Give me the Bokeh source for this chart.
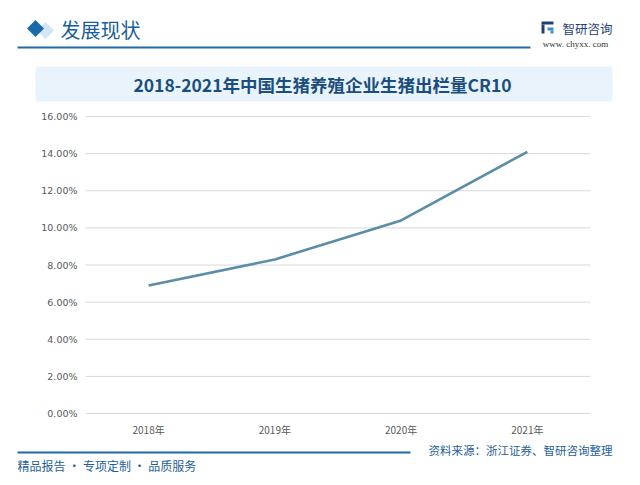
import math
from bokeh.plotting import figure
from bokeh.models import Range1d, FixedTicker, NumeralTickFormatter, LinearAxis
from bokeh.core.properties import value
from bokeh.embed import file_html
from bokeh.resources import INLINE

# ---- data ----
years = ["2018年", "2019年", "2020年", "2021年"]
cr10 = [0.069, 0.083, 0.104, 0.141]
y_ticks = [0.0, 0.02, 0.04, 0.06, 0.08, 0.10, 0.12, 0.14, 0.16]

header_text = "发展现状"
chart_title = "2018-2021年中国生猪养殖企业生猪出栏量CR10"
brand_name = "智研咨询"
brand_url = "www. chyxx. com"
footer_left = "精品报告 · 专项定制 · 品质服务"
footer_right = "资料来源：浙江证券、智研咨询整理"

# ---- page geometry (pixels) ----
W, H = 640, 485
FL, FR, FT, FB = 85, 590, 116, 413   # chart plot area on the page
n = len(years)
x_unit = (FR - FL) / n                # px per category band
y_max = y_ticks[-1]
y_unit = y_max / (FB - FT)            # value per px

x_range = Range1d(-FL / x_unit, n + (W - FR) / x_unit)
y_range = Range1d(-(H - FB) * y_unit, y_max + FT * y_unit)

p = figure(width=W, height=H, x_range=x_range, y_range=y_range,
           output_backend="svg", toolbar_location=None,
           x_axis_location=None, y_axis_location=None,
           min_border=0, min_border_left=0, min_border_right=0,
           min_border_top=0, min_border_bottom=0)
p.grid.visible = False
p.outline_line_color = None
p.background_fill_color = "white"
p.border_fill_color = "white"
p.extra_x_ranges = {"px": Range1d(0, W)}
p.extra_y_ranges = {"px": Range1d(H, 0)}

# y axis
x_pos = [i + 0.5 for i in range(n)]
yax = LinearAxis(fixed_location=0, ticker=FixedTicker(ticks=y_ticks),
                 formatter=NumeralTickFormatter(format="0.00%"))
yax.axis_line_color = None
yax.major_tick_line_color = None
yax.minor_tick_line_color = None
yax.major_tick_out = 0
yax.major_tick_in = 0
yax.major_label_text_color = "#595959"
yax.major_label_text_font = "DejaVu Sans"
yax.major_label_text_font_size = "9.5px"
yax.major_label_standoff = 8
p.add_layout(yax, "left")

# x axis (category bands)
xax = LinearAxis(fixed_location=0, ticker=FixedTicker(ticks=x_pos),
                 major_label_overrides={x: y for x, y in zip(x_pos, years)})
xax.axis_line_color = None
xax.major_tick_line_color = None
xax.minor_tick_line_color = None
xax.major_tick_out = 0
xax.major_tick_in = 0
xax.major_label_text_color = "#595959"
xax.major_label_text_font = "Noto Sans CJK SC"
xax.major_label_text_font_size = "10px"
xax.major_label_standoff = 8
p.add_layout(xax, "below")

# horizontal grid lines across the category bands
p.segment(x0=[0] * len(y_ticks), x1=[n] * len(y_ticks), y0=y_ticks, y1=y_ticks,
          line_color="#d9d9d9", line_width=1)

# data line
p.line(x_pos, cr10, line_color="#5b8ea6", line_width=2.6)


# ---- decorations in page pixels ----
def txt(text, x, y, size, color, font="Noto Sans CJK SC", align="left", bold=False):
    p.text(x=[x], y=[y], text=[text], text_font=value(font), text_font_size=size,
           text_color=color, text_align=align, text_baseline="middle",
           text_font_style="bold" if bold else "normal",
           x_range_name="px", y_range_name="px")


def box(l, t, r, b, color):
    p.quad(left=[l], right=[r], top=[t], bottom=[b], fill_color=color, line_color=None,
           x_range_name="px", y_range_name="px", level="underlay")


# header
p.scatter(x=[45], y=[30], marker="square", angle=math.pi / 4, size=12,
          fill_color="#d3e6f5", line_color=None, x_range_name="px", y_range_name="px")
p.scatter(x=[35], y=[28], marker="square", angle=math.pi / 4, size=12,
          fill_color="#1a6aa8", line_color=None, x_range_name="px", y_range_name="px")
txt(header_text, 60, 29, "20px", "#1a5f9c")
box(17, 46, 530, 48, "#1e6aa6")
# brand logo
box(541, 21, 553, 24, "#1f3f7a")
box(541, 24, 544, 33, "#1f3f7a")
box(547, 27, 553, 30, "#3a8fd0")
box(550, 30, 553, 33, "#3a8fd0")
txt(brand_name, 562, 28, "12.5px", "#1f3f7a")
txt(brand_url, 575, 43, "9px", "#333333", font="Liberation Serif", align="center")
# title band
box(35, 66, 612, 101, "#e8f3fb")
txt(chart_title, 322, 84, "17.5px", "#1b4e7d", align="center", bold=True)

# footer
box(17, 451, 410, 453, "#1e6aa6")
txt(footer_left, 17, 465, "12px", "#1f5f99")
txt(footer_right, 612, 449, "11.5px", "#1f5f99", align="right")

open("out.html", "w").write(file_html(p, INLINE))
